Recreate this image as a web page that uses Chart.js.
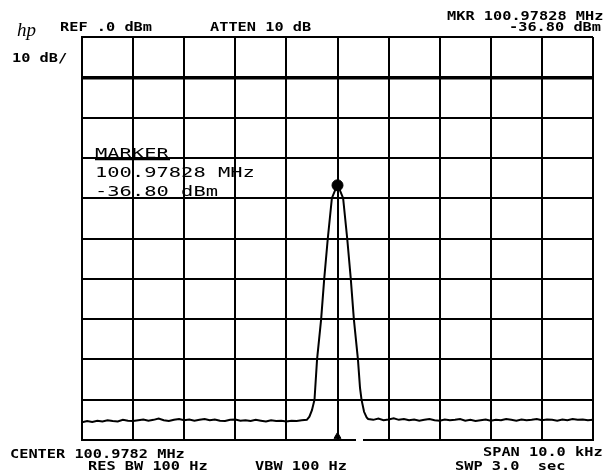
<!DOCTYPE html>
<html>
<head>
<meta charset="utf-8">
<script src="https://cdn.jsdelivr.net/npm/chart.js@4/dist/chart.umd.min.js"></script>
<style>
  html, body { margin: 0; padding: 0; background: #fff; }
  #wrap { width: 614px; height: 475px; }
</style>
</head>
<body>
<div id="wrap"><canvas id="c" width="614" height="475"></canvas></div>
<script>
// ---- Data (frequency offset from center, kHz; amplitude dBm) ----
const noiseLeftFreqKHz = [-5.0,-4.9,-4.8,-4.7,-4.6,-4.5,-4.4,-4.3,-4.2,-4.1,-4.0,-3.9,-3.8,-3.7,-3.6,-3.5,-3.4,-3.3,-3.2,-3.1,-3.0,-2.9,-2.8,-2.7,-2.6,-2.5,-2.4,-2.3,-2.2,-2.1,-2.0,-1.9,-1.8,-1.7,-1.6,-1.5,-1.4,-1.3,-1.2,-1.1,-1.0,-0.9,-0.8,-0.7,-0.6];
const noiseLeftDbm = [-95.6,-95.3,-95.5,-95.2,-95.4,-95.1,-95.3,-95.4,-95.0,-95.2,
  -95.3,-95.1,-94.9,-95.2,-95.0,-94.7,-95.1,-95.3,-95.0,-94.8,
  -95.1,-94.9,-95.2,-95.0,-94.8,-95.1,-94.9,-95.2,-95.3,-95.0,
  -94.9,-95.2,-95.1,-95.3,-95.0,-95.2,-95.4,-95.1,-95.3,-95.2,
  -95.4,-95.2,-95.3,-95.1,-95.0];
const peakFreqKHz = [-0.55,-0.50,-0.45,-0.40,-0.32,-0.26,-0.19,-0.11,-0.04,0,0.04,0.11,0.19,0.26,0.32,0.40,0.44,0.47,0.52,0.57];
const peakDbm = [-94.2,-92.6,-90,-80,-70,-60,-50,-40,-37.8,-36.8,-37.8,-40,-50,-60,-70,-80,-87,-90,-93,-94.4];
const noiseRightFreqKHz = [0.6,0.7,0.8,0.9,1.0,1.1,1.2,1.3,1.4,1.5,1.6,1.7,1.8,1.9,2.0,2.1,2.2,2.3,2.4,2.5,2.6,2.7,2.8,2.9,3.0,3.1,3.2,3.3,3.4,3.5,3.6,3.7,3.8,3.9,4.0,4.1,4.2,4.3,4.4,4.5,4.6,4.7,4.8,4.9,5.0];
const noiseRightDbm = [-94.8,-95.0,-94.7,-95.1,-94.9,-94.6,-95.0,-94.8,-95.1,-94.9,
  -95.2,-95.0,-94.8,-95.1,-95.2,-94.9,-95.1,-95.0,-94.8,-95.2,
  -95.0,-95.3,-95.1,-94.9,-95.2,-95.0,-95.1,-94.8,-95.0,-95.2,
  -94.9,-95.1,-95.0,-94.8,-95.1,-94.9,-95.0,-95.2,-94.9,-95.1,
  -94.8,-95.0,-94.9,-95.1,-95.0];
const markerFreqKHz = [0];
const markerDbm = [-36.8];
const xRangeKHz = [-5, 5];   // span 10 kHz, 1 kHz/div
const yRangeDbm = [-100, 0]; // ref 0 dBm, 10 dB/div

// ---- Annotation texts ----
const headerLabels = [
  { t: "REF .0 dBm", x: 60, y: 30.5 },
  { t: "ATTEN 10 dB", x: 210, y: 30.5 },
  { t: "MKR 100.97828 MHz", x: 447, y: 19.5 },
  { t: "-36.80 dBm", x: 509, y: 31 },
  { t: "10 dB/", x: 12, y: 62 },
  { t: "CENTER 100.9782 MHz", x: 10, y: 457.5 },
  { t: "SPAN 10.0 kHz", x: 483, y: 456 },
  { t: "RES BW 100 Hz", x: 88, y: 470 },
  { t: "VBW 100 Hz", x: 255, y: 470 },
  { t: "SWP 3.0  sec", x: 455, y: 470 }
];
const markerLabels = [
  { t: "MARKER", x: 95, y: 157.5 },
  { t: "100.97828 MHz", x: 95, y: 177 },
  { t: "-36.80 dBm", x: 95, y: 196 }
];

function pts(xs, ys) { return xs.map((x, i) => ({ x: x, y: ys[i] })); }
const traceData = pts(noiseLeftFreqKHz, noiseLeftDbm)
  .concat(pts(peakFreqKHz, peakDbm))
  .concat(pts(noiseRightFreqKHz, noiseRightDbm));

function drawStretched(ctx, text, x, y, font, pitch) {
  ctx.font = font;
  const adv = ctx.measureText("M").width;
  const sx = pitch / adv;
  ctx.save();
  ctx.translate(x, y);
  ctx.scale(sx, 1);
  ctx.fillText(text, 0, 0);
  ctx.restore();
}

const textPlugin = {
  id: "hpText",
  afterDraw(chart) {
    const ctx = chart.ctx;
    ctx.save();
    ctx.fillStyle = "#000";
    ctx.textBaseline = "alphabetic";
    ctx.textAlign = "left";
    headerLabels.forEach(l => drawStretched(ctx, l.t, l.x, l.y, "bold 11.5px 'DejaVu Sans Mono'", 9.2));
    markerLabels.forEach(l => drawStretched(ctx, l.t, l.x, l.y, "14px 'DejaVu Sans Mono'", 12.3));
    // underline of MARKER
    ctx.strokeStyle = "#000";
    ctx.lineWidth = 1.5;
    ctx.beginPath(); ctx.moveTo(95, 159.5); ctx.lineTo(170, 159.5); ctx.stroke();
    // hp logo
    ctx.font = "italic 19px 'Liberation Serif'";
    ctx.fillText("hp", 17, 36);
    // small gap in the bottom graticule edge
    ctx.fillStyle = "#fff";
    ctx.fillRect(356, 437, 7, 6);
    ctx.restore();
  }
};

new Chart(document.getElementById("c"), {
  type: "line",
  data: {
    datasets: [
      {
        data: traceData,
        borderColor: "#000",
        borderWidth: 2,
        pointRadius: 0,
        tension: 0,
        fill: false
      },
      {
        data: pts(markerFreqKHz, markerDbm),
        showLine: false,
        pointRadius: 5.5,
        pointBackgroundColor: "#000",
        pointBorderColor: "#000"
      },
      {
        data: pts(markerFreqKHz, [-99.1]),
        showLine: false,
        pointStyle: "triangle",
        pointRadius: 4,
        pointBackgroundColor: "#000",
        pointBorderColor: "#000"
      }
    ]
  },
  options: {
    responsive: false,
    animation: false,
    devicePixelRatio: 1,
    layout: { padding: { left: 82, right: 21, top: 37, bottom: 35 } },
    plugins: { legend: { display: false }, tooltip: { enabled: false } },
    scales: {
      x: {
        type: "linear",
        min: xRangeKHz[0], max: xRangeKHz[1],
        ticks: { display: false, stepSize: 1 },
        grid: { color: "#000", lineWidth: 2, drawTicks: false },
        border: { display: true, color: "#000", width: 2 }
      },
      y: {
        min: yRangeDbm[0], max: yRangeDbm[1],
        ticks: { display: false, stepSize: 10 },
        grid: {
          color: "#000",
          lineWidth: c => (c.tick && c.tick.value === -10 ? 3.5 : 2),
          drawTicks: false
        },
        border: { display: true, color: "#000", width: 2 }
      }
    }
  },
  plugins: [textPlugin]
});
</script>
</body>
</html>
